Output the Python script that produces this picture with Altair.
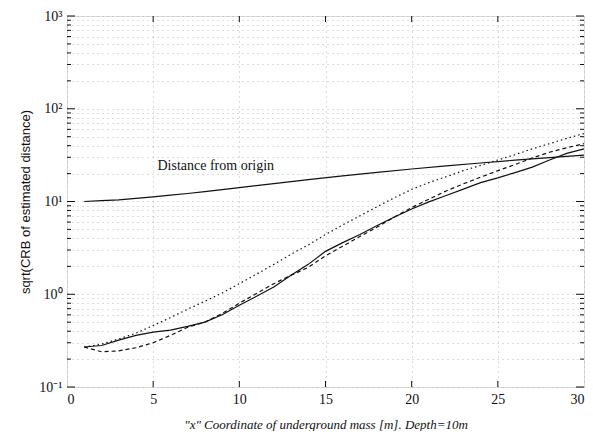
import altair as alt
import pandas as pd

# ---- data ----
xs = list(range(1, 31))
solid = [0.27, 0.28, 0.32, 0.36, 0.39, 0.41, 0.45, 0.50, 0.60, 0.76,
         0.95, 1.2, 1.6, 2.1, 2.9, 3.6, 4.4, 5.5, 6.8, 8.3,
         9.9, 11.6, 13.6, 16.0, 18.0, 20.5, 23.5, 28.0, 33.0, 37.0]
dashed = [0.27, 0.24, 0.245, 0.265, 0.30, 0.36, 0.44, 0.50, 0.62, 0.80,
          1.02, 1.3, 1.6, 1.95, 2.6, 3.3, 4.2, 5.3, 6.8, 8.6,
          10.6, 13.0, 15.5, 18.3, 21.5, 25.0, 29.5, 34.0, 38.0, 42.0]
dotted = [0.27, 0.29, 0.33, 0.38, 0.46, 0.56, 0.69, 0.84, 1.03, 1.3,
          1.65, 2.1, 2.7, 3.4, 4.4, 5.6, 7.0, 8.8, 11.0, 13.5,
          16.0, 18.5, 21.5, 24.5, 28.0, 32.0, 37.0, 42.0, 48.0, 54.0]
dist_x = [1, 2, 3, 4, 5, 6, 7, 8, 9, 10, 12, 14, 16, 18, 20, 22, 24, 26, 28, 30]
dist_y = [10.0, 10.2, 10.4, 10.8, 11.2, 11.7, 12.2, 12.8, 13.4, 14.1,
          15.6, 17.2, 18.9, 20.6, 22.4, 24.2, 26.0, 27.9, 29.7, 31.6]

x_ticks = [0, 5, 10, 15, 20, 25, 30]
y_major = [0.1, 1, 10, 100, 1000]
y_minor = [0.2, 0.3, 0.4, 0.5, 0.6, 0.7, 0.8, 0.9,
           2, 3, 4, 5, 6, 7, 8, 9,
           20, 30, 40, 50, 60, 70, 80, 90,
           200, 300, 400, 500, 600, 700, 800, 900]
y_labels = ["10⁻¹", "10⁰", "10¹", "10²", "10³"]

note_x = [5.25]
note_y = [22.0]
note_text = ["Distance from origin"]

W, H = 517, 371
SERIF = "Liberation Serif"

xscale = alt.Scale(domain=[0, 30], nice=False, zero=False)
yscale = alt.Scale(type="log", domain=[0.1, 1000], nice=False)

label_expr = " : ".join(
    f"datum.value == {v} ? '{l}'" for v, l in zip(y_major, y_labels)
) + " : ''"

GRID = "#a8a8a8"
xaxis = alt.Axis(values=x_ticks, grid=True, gridDash=[1, 4], gridColor=GRID,
                 gridWidth=0.8, ticks=False, domain=False, labelFont=SERIF,
                 labelFontSize=14, labelColor="#111", labelPadding=5,
                 title="\"x\" Coordinate of underground mass [m]. Depth=10m",
                 titleFont=SERIF, titleFontStyle="italic", titleFontWeight="normal",
                 titleFontSize=13, titleColor="#111", titleY=41,
                 titleBaseline="alphabetic")
yaxis = alt.Axis(values=y_major + y_minor, grid=True, gridDash=[1, 4],
                 gridColor=GRID, gridWidth=0.8, ticks=False, domain=False,
                 labelExpr=label_expr, labelFont=SERIF, labelFontSize=14,
                 labelColor="#111", labelPadding=5,
                 title="sqrt(CRB of estimated distance)", titleFont="Liberation Sans",
                 titleFontWeight="normal", titleFontSize=13, titleColor="#111",
                 titleX=-42, titleY=H / 2, titleAngle=-90, titleAlign="center",
                 titleBaseline="middle")

curves = pd.DataFrame({
    "x": xs * 3,
    "y": solid + dashed + dotted,
    "s": ["solid"] * 30 + ["dashed"] * 30 + ["dotted"] * 30,
})
dist = pd.DataFrame({"x": dist_x, "y": dist_y})

base_x = alt.X("x:Q", scale=xscale, axis=xaxis)
base_y = alt.Y("y:Q", scale=yscale, axis=yaxis)

dist_line = alt.Chart(dist).mark_line(color="#111", strokeWidth=1.2).encode(
    x=base_x, y=base_y)


def curve(name, dash):
    kw = {"color": "#111", "strokeWidth": 1.2}
    if dash:
        kw["strokeDash"] = dash
    return alt.Chart(curves).transform_filter(
        alt.datum.s == name).mark_line(**kw).encode(
        x=alt.X("x:Q", scale=xscale), y=alt.Y("y:Q", scale=yscale))


c_solid = curve("solid", None)
c_dashed = curve("dashed", [4, 3])
c_dotted = curve("dotted", [1.5, 3])

note = alt.Chart(pd.DataFrame({"x": note_x, "y": note_y, "t": note_text})).mark_text(
    align="left", baseline="alphabetic", font=SERIF, fontSize=14, color="#111"
).encode(x=alt.X("x:Q", scale=xscale), y=alt.Y("y:Q", scale=yscale), text="t:N")

# inward tick marks
ymaj = pd.DataFrame({"v": y_major})
ymin = pd.DataFrame({"v": y_minor})
xt = pd.DataFrame({"v": x_ticks[1:-1]})


def yticks(df, length):
    left = alt.Chart(df).mark_rule(color="#111", strokeWidth=1).encode(
        y=alt.Y("v:Q", scale=yscale), x=alt.value(0), x2=alt.value(length))
    right = alt.Chart(df).mark_rule(color="#111", strokeWidth=1).encode(
        y=alt.Y("v:Q", scale=yscale), x=alt.value(W), x2=alt.value(W - length))
    return [left, right]


xt_bottom = alt.Chart(xt).mark_rule(color="#111", strokeWidth=1).encode(
    x=alt.X("v:Q", scale=xscale), y=alt.value(H), y2=alt.value(H - 6))
xt_top = alt.Chart(xt).mark_rule(color="#111", strokeWidth=1).encode(
    x=alt.X("v:Q", scale=xscale), y=alt.value(0), y2=alt.value(6))

chart = alt.layer(
    dist_line, c_solid, c_dashed, c_dotted, note,
    *yticks(ymaj, 8), *yticks(ymin, 4), xt_bottom, xt_top
).properties(
    width=W, height=H,
    autosize=alt.AutoSizeParams(type="none"),
    padding={"left": 59, "top": 8, "right": 1, "bottom": 44},
).configure_view(stroke="#111", strokeWidth=1.2).configure(background="white")

chart.save("out.html", embed_options={"renderer": "svg", "actions": False})
